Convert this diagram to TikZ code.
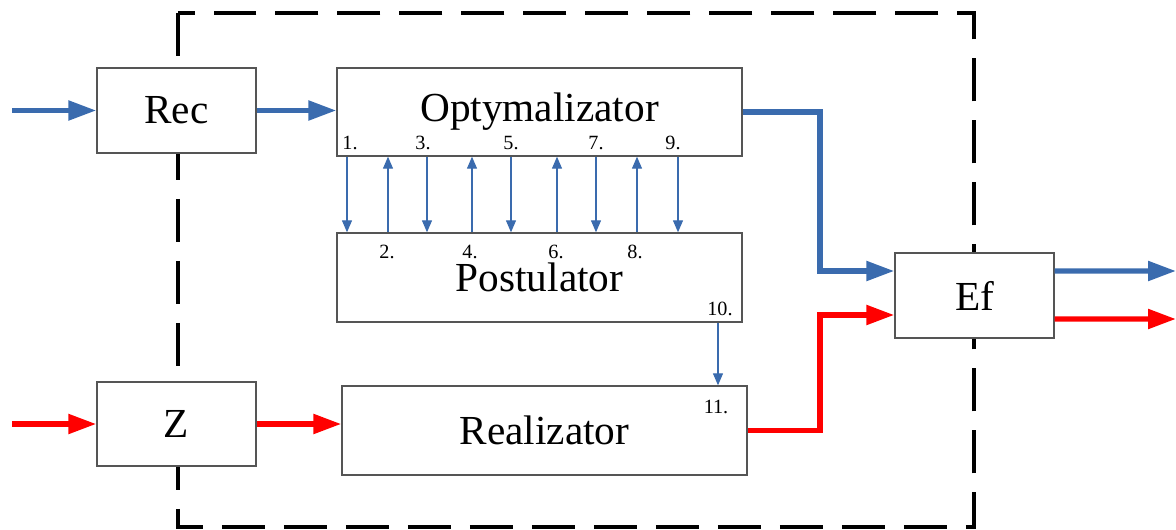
\documentclass[tikz,border=0pt]{standalone}
\usepackage{fontspec}
\setmainfont{Liberation Serif}
\usetikzlibrary{arrows.meta}
\definecolor{flowblue}{RGB}{58,107,174}
\definecolor{boxgray}{RGB}{85,85,85}
\tikzset{blk/.style={draw=boxgray,line width=.8pt,fill=white,inner sep=0pt,font=\fontsize{23.5}{28}\selectfont},
bflow/.style={draw=flowblue,line width=3pt,-{Triangle[length=.56cm,width=.38cm]}},
rflow/.style={bflow,draw=red},
sig/.style={draw=flowblue,line width=.7pt,-{Triangle[length=.24cm,width=.2cm]}},
num/.style={font=\fontsize{11.5}{13}\selectfont,inner sep=0pt},
frame/.style={line width=2.3pt,dash pattern=on .86cm off .38cm}}

\begin{document}
\begin{tikzpicture}[x=.02cm,y=-.02cm]
\useasboundingbox (0,0) rectangle (1176,530);
\draw[frame] (178,13) rectangle (974,527);

% blocks
\node[blk,minimum width=3.18cm,minimum height=1.7cm] (rec) at (176.5,110.5) {Rec};
\node[blk,minimum width=3.18cm,minimum height=1.68cm] (z) at (176.5,424) {Z};
\node[blk,minimum width=8.1cm,minimum height=1.76cm] (opt) at (539.5,112) {Optymalizator};
\node[blk,minimum width=8.1cm,minimum height=1.78cm] (post) at (539.5,277.5) {Postulator};
\node[blk,minimum width=8.1cm,minimum height=1.78cm] (real) at (544.5,430.5) {Realizator};
\node[blk,minimum width=3.18cm,minimum height=1.7cm] (ef) at (974.5,295.5) {Ef};

\coordinate (inB) at (12,110.5);\coordinate (inR) at (12,424);
\coordinate (turn) at (820,200);
\coordinate (outB) at (1176,271);\coordinate (outR) at (1176,319);

% main flows
\draw[bflow] (inB)--(rec);
\draw[bflow] (rec.east)--(rec.east -| opt.west);
\draw[bflow] (opt.east)--(opt.east -| turn) |- ([yshift=.49cm]ef.west);
\draw[bflow] ([yshift=.49cm]ef.east)--(outB);
\draw[rflow] (inR)--(z);
\draw[rflow] (z.east)--(z.east -| real.west);
\draw[rflow] (real.east)--(real.east -| turn) |- ([yshift=-.39cm]ef.west);
\draw[rflow] ([yshift=-.47cm]ef.east)--(outR);

% signals
\foreach \x in {347,427,511,596,678} \draw[sig] (\x,0 |- opt.south)--(\x,0 |- post.north);
\foreach \x in {388,472,557,637} \draw[sig] (\x,0 |- post.north)--(\x,0 |- opt.south);
\draw[sig] (718,0 |- post.south)--(718,0 |- real.north);
\foreach \x/\n in {350/1,423/3,511/5,596/7,673/9} \node[num] (n\n) at (\x,143) {\n.};
\foreach \x/\n in {387/2,470/4,556/6,635/8} \node[num] (n\n) at (\x,252) {\n.};
\node[num] (n10) at (720,309) {10.};
\node[num] (n11) at (716,407) {11.};
\end{tikzpicture}
\end{document}
